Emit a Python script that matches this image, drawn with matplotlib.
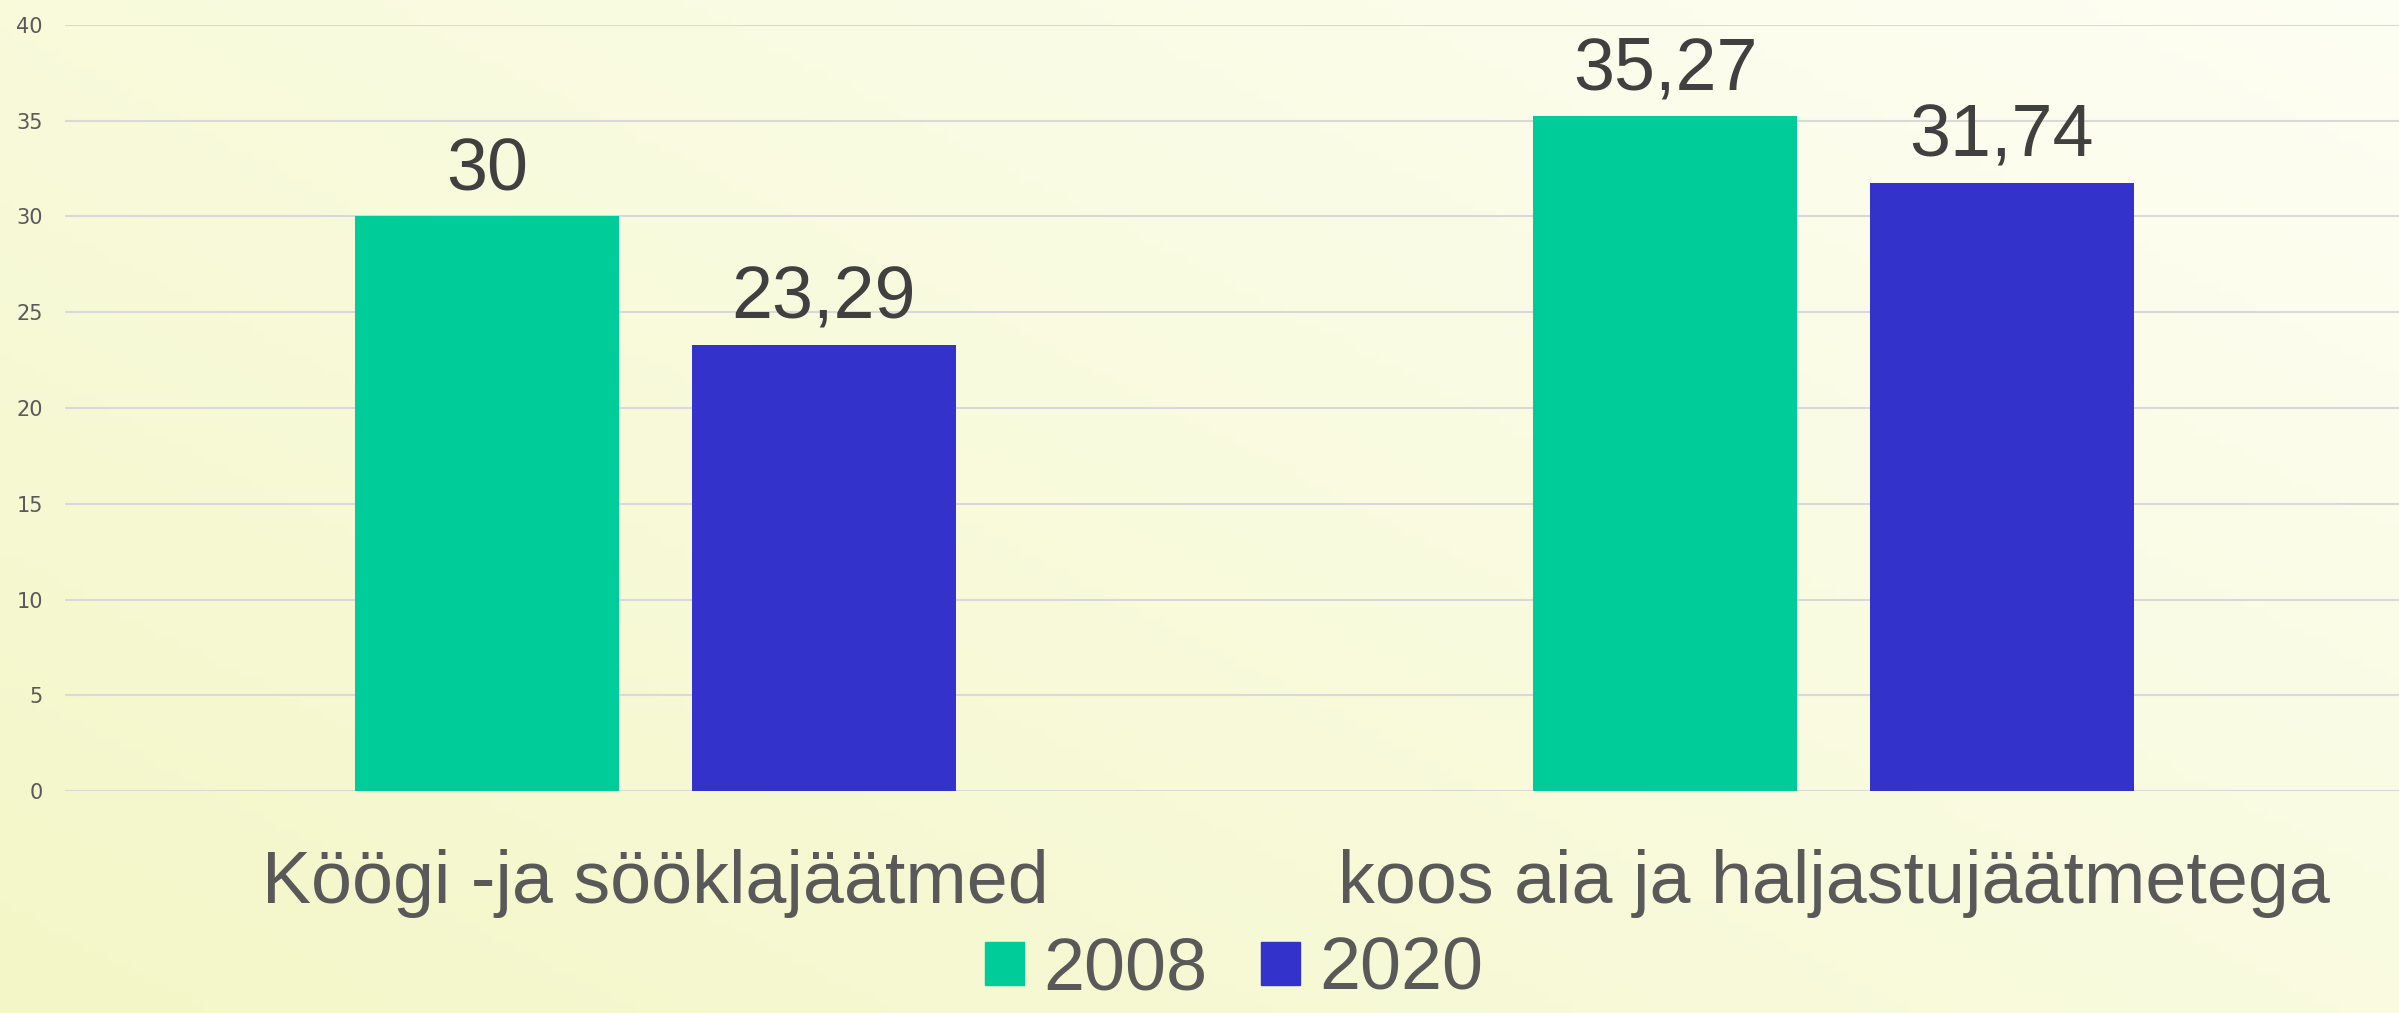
import numpy as np
import matplotlib

matplotlib.use("Agg")
import matplotlib.pyplot as plt
from matplotlib.patches import Patch
from matplotlib.transforms import blended_transform_factory

# andmed
categories = ["Köögi -ja sööklajäätmed", "koos aia ja haljastujäätmetega"]
years = ["2008", "2020"]
values_2008 = [30, 35.27]
values_2020 = [23.29, 31.74]
y_ticks = [0, 5, 10, 15, 20, 25, 30, 35, 40]

colors = {"2008": "#00CC99", "2020": "#3333CC"}

plt.rcParams["font.family"] = ["Liberation Sans", "DejaVu Sans"]

fig = plt.figure(figsize=(23.99, 10.13), dpi=100)

# taust: kahvatukollane gradient
bg = fig.add_axes([0, 0, 1, 1], zorder=-10)
gx, gy = np.meshgrid(np.linspace(0, 1, 200), np.linspace(0, 1, 100))
shade = 0.55 * (1 - gx) + 0.45 * gy
c_light = np.array([0.995, 0.997, 0.955])
c_dark = np.array([0.955, 0.968, 0.78])
img = c_light + (c_dark - c_light) * shade[..., None]
bg.imshow(img, aspect="auto", extent=(0, 1, 0, 1))
bg.set_axis_off()

ax = fig.add_axes([65 / 2399, 1 - 791 / 1013, 1 - 65 / 2399, (791 - 25) / 1013])
ax.set_facecolor("none")

x = np.arange(len(categories))
width = 0.224
offset = 0.143
series = [("2008", values_2008, -offset), ("2020", values_2020, offset)]

for name, vals, off in series:
    bars = ax.bar(x + off, vals, width, color=colors[name], label=name, zorder=3)
    for rect, v in zip(bars, vals):
        txt = f"{v:g}".replace(".", ",")
        ax.annotate(txt, (rect.get_x() + rect.get_width() / 2, rect.get_height()),
                    xytext=(0, 19), textcoords="offset points",
                    ha="center", va="baseline", fontsize=53, color="#404040")

ax.set_ylim(0, 40)
ax.set_xlim(-0.501, 1.48)
ax.set_yticks(y_ticks)
ax.set_yticklabels([str(t) for t in y_ticks], family="DejaVu Sans", fontsize=15, color="#595959")
ax.tick_params(axis="y", length=0, pad=16)
ax.set_xticks([])
ax.grid(axis="y", color="#d9d9d9", lw=1.5, zorder=0)
for s in ax.spines.values():
    s.set_visible(False)

# kategooriate nimed
trans = blended_transform_factory(ax.transData, fig.transFigure)
for xi, cat in zip(x, categories):
    ax.text(xi, 1 - 903 / 1013, cat, transform=trans, ha="center", va="baseline",
            fontsize=53, color="#595959")

handles = [Patch(color=colors[y]) for y in years]
fig.legend(handles, years, loc="center", bbox_to_anchor=(0.5146, 1 - 970 / 1013),
           ncol=2, frameon=False, fontsize=53, labelcolor="#595959",
           handlelength=0.53, handleheight=0.52, handletextpad=0.26,
           columnspacing=0.73, borderpad=0, borderaxespad=0)

fig.savefig("out.png", dpi=100)
